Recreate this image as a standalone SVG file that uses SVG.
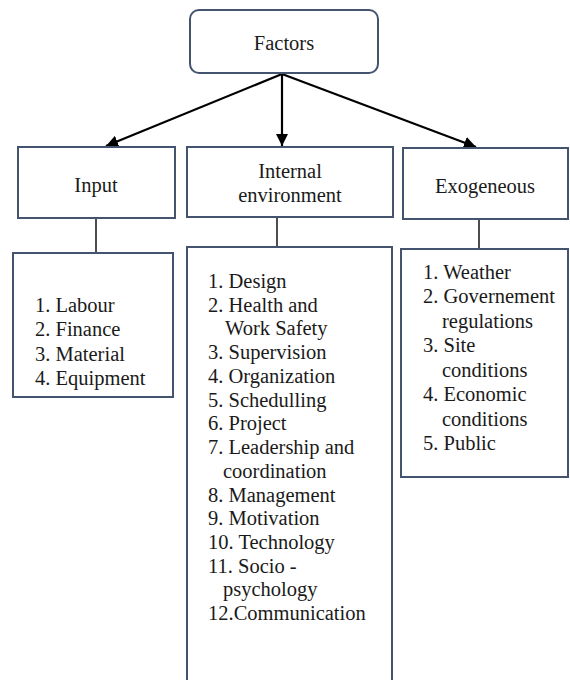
<svg xmlns="http://www.w3.org/2000/svg" width="570" height="680" viewBox="0 0 570 680">
<style>
.box{fill:#ffffff;stroke:#44546e;stroke-width:2}
.t{font-family:'Liberation Serif','Times New Roman',serif;font-size:20.5px;fill:#1a1a1a}
.c{text-anchor:middle}
.ln{stroke:#000;stroke-width:2.2;fill:none}
.sl{stroke:#3a3a3a;stroke-width:1.8;fill:none}
</style>
<defs>
<marker id="ah" viewBox="0 0 10 10" refX="10" refY="5" markerWidth="5.5" markerHeight="5.5" orient="auto" markerUnits="strokeWidth">
<path d="M0,0 L10,5 L0,10 z" fill="#000"/>
</marker>
</defs>
<rect width="570" height="680" fill="#ffffff"/>
<g id="connectors">
<line class="ln" x1="282" y1="74" x2="106" y2="146" marker-end="url(#ah)"/>
<line class="ln" x1="282" y1="74" x2="282" y2="146" marker-end="url(#ah)"/>
<line class="ln" x1="282" y1="74" x2="476" y2="147" marker-end="url(#ah)"/>
<line class="sl" x1="96" y1="218" x2="96" y2="253"/>
<line class="sl" x1="277" y1="217" x2="277" y2="247"/>
<line class="sl" x1="479" y1="219" x2="479" y2="249"/>
</g>
<g id="factors">
<rect class="box" x="190" y="10" width="188" height="63" rx="9"/>
<text class="t c" x="284" y="50">Factors</text>
</g>
<g id="input">
<rect class="box" x="18" y="147" width="157" height="71"/>
<text class="t c" x="96" y="192">Input</text>
</g>
<g id="internal">
<rect class="box" x="187" y="147" width="206" height="70"/>
<text class="t c" x="290" y="178">Internal</text>
<text class="t c" x="290" y="202">environment</text>
</g>
<g id="exogeneous">
<rect class="box" x="403" y="148" width="165" height="71"/>
<text class="t c" x="485" y="193">Exogeneous</text>
</g>
<g id="input-list">
<rect class="box" x="13" y="253" width="160" height="144"/>
<text class="t" x="35" y="312">1. Labour</text>
<text class="t" x="35" y="336">2. Finance</text>
<text class="t" x="35" y="361">3. Material</text>
<text class="t" x="35" y="385">4. Equipment</text>
</g>
<g id="internal-list">
<rect class="box" x="187" y="247" width="205" height="440"/>
<text class="t" x="208" y="288">1. Design</text>
<text class="t" x="208" y="312">2. Health and</text>
<text class="t" x="225" y="335">Work Safety</text>
<text class="t" x="208" y="359">3. Supervision</text>
<text class="t" x="208" y="383">4. Organization</text>
<text class="t" x="208" y="407">5. Schedulling</text>
<text class="t" x="208" y="430">6. Project</text>
<text class="t" x="208" y="454">7. Leadership and</text>
<text class="t" x="223" y="478">coordination</text>
<text class="t" x="208" y="502">8. Management</text>
<text class="t" x="208" y="525">9. Motivation</text>
<text class="t" x="208" y="549">10. Technology</text>
<text class="t" x="208" y="573">11. Socio -</text>
<text class="t" x="223" y="596">psychology</text>
<text class="t" x="208" y="620">12.Communication</text>
</g>
<g id="exogeneous-list">
<rect class="box" x="401" y="249" width="167" height="228"/>
<text class="t" x="423" y="279">1. Weather</text>
<text class="t" x="423" y="303">2. Governement</text>
<text class="t" x="442" y="328">regulations</text>
<text class="t" x="423" y="352">3. Site</text>
<text class="t" x="442" y="377">conditions</text>
<text class="t" x="423" y="401">4. Economic</text>
<text class="t" x="442" y="426">conditions</text>
<text class="t" x="423" y="450">5. Public</text>
</g>
</svg>
